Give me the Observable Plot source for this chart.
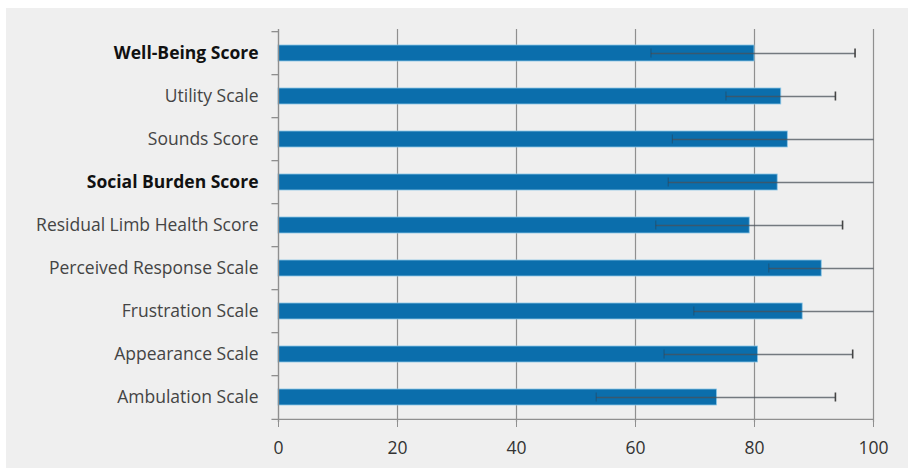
<!DOCTYPE html>
<html>
<head>
<meta charset="utf-8">
<script src="https://cdn.jsdelivr.net/npm/d3@7"></script>
<script src="https://cdn.jsdelivr.net/npm/@observablehq/plot@0.6"></script>
<style>
  html, body { margin: 0; padding: 0; background: #ffffff; }
  #wrap { width: 916px; height: 474px; box-sizing: border-box; padding: 8px 8px 6px 6px; background: #fff; }
  #wrap svg { display: block; background: #efefef; }
</style>
</head>
<body>
<div id="wrap"></div>
<script>
const categories = [
  "Well-Being Score",
  "Utility Scale",
  "Sounds Score",
  "Social Burden Score",
  "Residual Limb Health Score",
  "Perceived Response Scale",
  "Frustration Scale",
  "Appearance Scale",
  "Ambulation Scale"
];
const means = [80.0, 84.5, 85.6, 83.9, 79.2, 91.3, 88.1, 80.6, 73.7];
const lows  = [62.6, 75.2, 66.2, 65.5, 63.4, 82.4, 69.8, 64.8, 53.4];
const highs = [96.9, 93.6, 104.0, 102.5, 94.8, 100.2, 106.4, 96.5, 93.6];
const boldCats = ["Well-Being Score", "Social Burden Score"];
const xTicks = [0, 20, 40, 60, 80, 100];

const data = categories.map((c, i) => ({
  cat: c, mean: means[i], lo: lows[i], hi: Math.min(highs[i], 100), capped: highs[i] > 100
}));

const W = 902, H = 460;
const mTop = 21, mBottom = 46;
const nBands = categories.length;
const pIn = 0.62, pOut = 0.31;
const step = (H - mTop - mBottom) / (nBands - pIn + 2 * pOut);

const chart = Plot.plot({
  width: W,
  height: H,
  marginLeft: 272,
  marginRight: 35,
  marginTop: mTop,
  marginBottom: mBottom,
  style: { fontFamily: "'Open Sans', sans-serif", fontSize: "17.5px", background: "#efefef", overflow: "visible" },
  x: { domain: [0, 100], ticks: xTicks, label: null },
  y: { domain: categories, paddingInner: pIn, paddingOuter: pOut, label: null, axis: null },
  marks: [
    Plot.gridX(xTicks.filter(t => t > 0), { stroke: "#8f8f8f", strokeOpacity: 1, strokeWidth: 1.2 }),
    Plot.barX(data, { y: "cat", x: "mean", fill: "#0b6eac", stroke: "#8cc6e6", strokeWidth: 0.8 }),
    Plot.link(data, { y1: "cat", y2: "cat", x1: "lo", x2: "hi", stroke: "#4a525a", strokeWidth: 1.3, strokeOpacity: 0.75 }),
    Plot.tickX(data.filter(d => !d.capped), { y: "cat", x: "hi", stroke: "#444", strokeWidth: 1.6, inset: 3.5 }),
    Plot.tickX(data, { y: "cat", x: "lo", stroke: "#2a3a48", strokeWidth: 1.2, strokeOpacity: 0.4, inset: 3.5 }),
    // y axis line and band-boundary ticks
    Plot.ruleX([0], { stroke: "#8f8f8f", strokeWidth: 1.4 }),
    Plot.ruleY(categories, { y: d => d, x1: -1.1, x2: 0, dy: -step / 2, stroke: "#8f8f8f", strokeWidth: 1.3 }),
    // x axis line
    Plot.ruleY([0], { y: () => categories[nBands - 1], x1: -1.1, x2: 100, dy: step / 2, stroke: "#8f8f8f", strokeWidth: 1.4 }),
    Plot.axisX({ ticks: xTicks, tickSize: 5, tickPadding: 14, stroke: "#8f8f8f", fill: "#333", fontSize: 17.5 }),
    Plot.axisY(categories.filter(c => !boldCats.includes(c)), { tickSize: 0, tickPadding: 20, fontSize: 17.5, fill: "#444" }),
    Plot.axisY(boldCats, { tickSize: 0, tickPadding: 20, fontSize: 17.5, fill: "#111", fontWeight: "bold" }),
  ]
});
document.getElementById("wrap").appendChild(chart);
</script>
</body>
</html>
